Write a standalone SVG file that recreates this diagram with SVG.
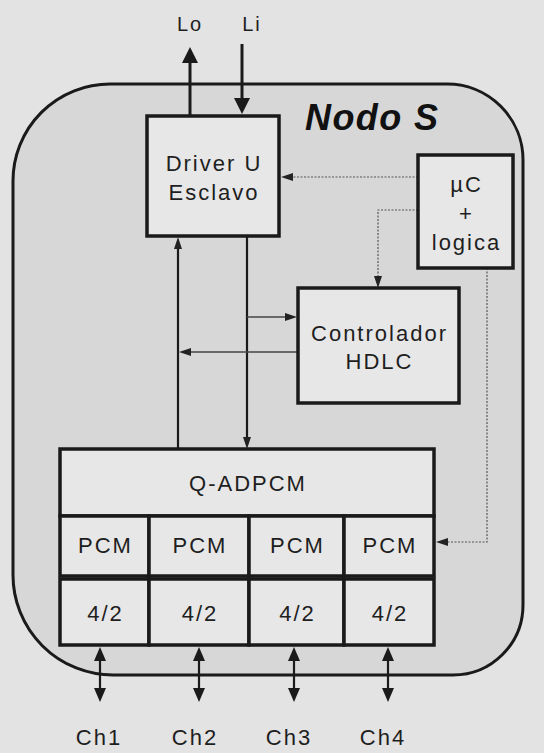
<svg xmlns="http://www.w3.org/2000/svg" width="544" height="753" viewBox="0 0 544 753">
<style>
  .box { fill: #e7e7e7; stroke: #1a1a1a; stroke-width: 3.5; }
  .t { font-family: "Liberation Sans", Arial, sans-serif; font-size: 22px; letter-spacing: 2px; fill: #1e1e1e; text-anchor: middle; }
  .io { font-size: 20px; }
  .title { font-family: "Liberation Sans", Arial, sans-serif; font-size: 36px; font-weight: bold; font-style: italic; letter-spacing: 1.4px; fill: #111; }
  .thick { stroke: #1a1a1a; stroke-width: 3; fill: none; }
  .mid { stroke: #1a1a1a; stroke-width: 2.2; fill: none; }
  .thin { stroke: #444; stroke-width: 1.3; fill: none; }
  .dot { stroke: #555; stroke-width: 1.2; stroke-dasharray: 2 1.5; fill: none; }
</style>
<defs>
  <marker id="big" viewBox="0 0 16 16" refX="0" refY="8" markerWidth="16" markerHeight="16" markerUnits="userSpaceOnUse" orient="auto">
    <path d="M0,0 L16,8 L0,16 Z" fill="#1a1a1a"/>
  </marker>
  <marker id="med" viewBox="0 0 14 12" refX="0" refY="6" markerWidth="14" markerHeight="12" markerUnits="userSpaceOnUse" orient="auto-start-reverse">
    <path d="M0,0 L14,6 L0,12 Z" fill="#1a1a1a"/>
  </marker>
  <marker id="small" viewBox="0 0 12 8" refX="0" refY="4" markerWidth="12" markerHeight="8" markerUnits="userSpaceOnUse" orient="auto">
    <path d="M0,0 L12,4 L0,8 Z" fill="#222"/>
  </marker>
</defs>
<rect x="0" y="0" width="544" height="753" fill="#e3e3e3"/>
<g id="nodo-s">
  <path d="M110,84 H447 A76,76 0 0 1 523,160 V605 A70,70 0 0 1 453,675 H113 A100,100 0 0 1 13,575 V181 A97,97 0 0 1 110,84 Z" fill="#d7d7d7" stroke="#1a1a1a" stroke-width="3"/>
  <text class="title" x="305" y="130">Nodo S</text>
</g>
<g id="connectors">
  <line class="thick" x1="190" y1="116" x2="190" y2="63" marker-end="url(#big)"/>
  <line class="thick" x1="242" y1="44" x2="242" y2="98" marker-end="url(#big)"/>
  <line class="mid" x1="247" y1="236" x2="247" y2="437" marker-end="url(#small)"/>
  <line class="mid" x1="178" y1="449" x2="178" y2="249" marker-end="url(#small)"/>
  <line class="thin" x1="247" y1="317" x2="285" y2="317" marker-end="url(#small)"/>
  <line class="thin" x1="298" y1="352" x2="191" y2="352" marker-end="url(#small)"/>
  <polyline class="dot" points="418,177 293,177" marker-end="url(#small)"/>
  <polyline class="dot" points="418,210 378,210 378,276" marker-end="url(#small)"/>
  <polyline class="dot" points="487,268 487,542 448,542" marker-end="url(#small)"/>
  <line class="mid" x1="100" y1="661" x2="100" y2="688" stroke-width="2.5" marker-start="url(#med)" marker-end="url(#med)"/>
  <line class="mid" x1="199" y1="661" x2="199" y2="688" stroke-width="2.5" marker-start="url(#med)" marker-end="url(#med)"/>
  <line class="mid" x1="294" y1="661" x2="294" y2="688" stroke-width="2.5" marker-start="url(#med)" marker-end="url(#med)"/>
  <line class="mid" x1="388" y1="661" x2="388" y2="688" stroke-width="2.5" marker-start="url(#med)" marker-end="url(#med)"/>
</g>
<g id="driver">
  <rect class="box" x="147" y="116" width="132" height="120"/>
  <text class="t" x="214" y="171">Driver U</text>
  <text class="t" x="214" y="200">Esclavo</text>
</g>
<g id="uc">
  <rect class="box" x="418" y="155" width="95" height="113"/>
  <text class="t" x="466.5" y="192">µC</text>
  <text class="t" x="466.5" y="221">+</text>
  <text class="t" x="466.5" y="250">logica</text>
</g>
<g id="hdlc">
  <rect class="box" x="298" y="288" width="161" height="115"/>
  <text class="t" x="379.5" y="341">Controlador</text>
  <text class="t" x="379.5" y="369">HDLC</text>
</g>
<g id="qadpcm">
  <rect class="box" x="60" y="449" width="374" height="67"/>
  <text class="t" x="248" y="491">Q-ADPCM</text>
</g>
<g id="pcm1"><rect class="box" x="60" y="516" width="89" height="60"/><text class="t" x="105.5" y="553">PCM</text></g>
<g id="pcm2"><rect class="box" x="149" y="516" width="100" height="60"/><text class="t" x="200" y="553">PCM</text></g>
<g id="pcm3"><rect class="box" x="249" y="516" width="95" height="60"/><text class="t" x="297.5" y="553">PCM</text></g>
<g id="pcm4"><rect class="box" x="344" y="516" width="90" height="60"/><text class="t" x="390" y="553">PCM</text></g>
<g id="h1"><rect class="box" x="60" y="579" width="89" height="66"/><text class="t" x="105.5" y="621">4/2</text></g>
<g id="h2"><rect class="box" x="149" y="579" width="100" height="66"/><text class="t" x="200" y="621">4/2</text></g>
<g id="h3"><rect class="box" x="249" y="579" width="95" height="66"/><text class="t" x="297.5" y="621">4/2</text></g>
<g id="h4"><rect class="box" x="344" y="579" width="90" height="66"/><text class="t" x="390" y="621">4/2</text></g>
<g id="labels">
  <text class="t io" x="190" y="31">Lo</text>
  <text class="t io" x="252" y="31">Li</text>
  <text class="t" x="99" y="745">Ch1</text>
  <text class="t" x="195" y="745">Ch2</text>
  <text class="t" x="289" y="745">Ch3</text>
  <text class="t" x="383" y="745">Ch4</text>
</g>
</svg>
